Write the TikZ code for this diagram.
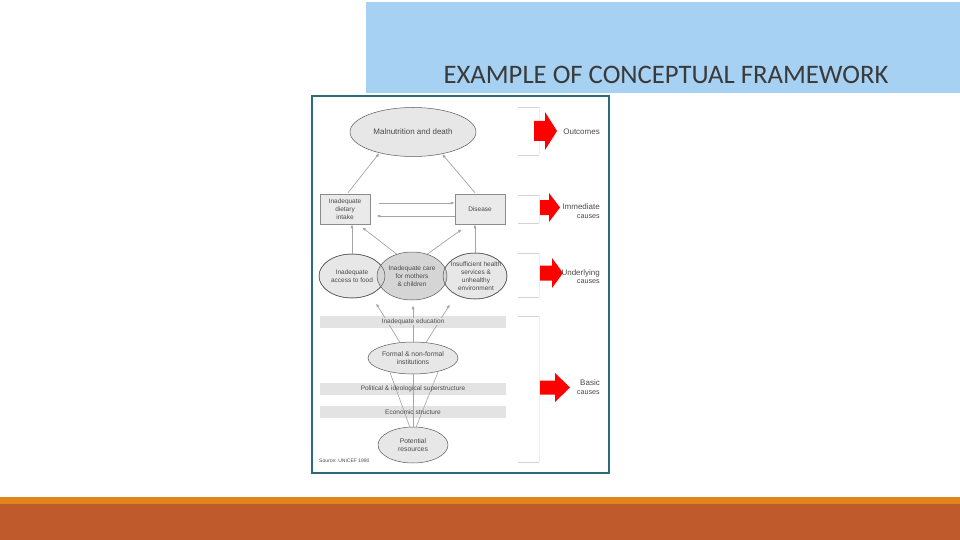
\documentclass[tikz,border=0pt]{standalone}
\usepackage{fontspec}
\setmainfont{Liberation Sans}
\newfontfamily\titlefont{Carlito}
\usetikzlibrary{arrows.meta,shapes.geometric,calc}
\definecolor{hdr}{HTML}{A6D1F3}
\definecolor{ttl}{HTML}{3A3A3A}
\definecolor{frm}{HTML}{2C6B7B}
\definecolor{orng}{HTML}{E3831B}
\definecolor{brwn}{HTML}{BE5A2C}
\definecolor{ellfill}{HTML}{E7E7E7}
\definecolor{ellmid}{HTML}{D5D5D5}
\definecolor{elldraw}{HTML}{5A5A5A}
\definecolor{boxfill}{HTML}{EAEAEA}
\definecolor{boxdraw}{HTML}{8C8C8C}
\definecolor{bandfill}{HTML}{E3E3E3}
\definecolor{conncol}{HTML}{A5A5A5}
\definecolor{brkcol}{HTML}{D3D3D3}
\definecolor{brkvert}{HTML}{EDEDED}
\definecolor{txt}{HTML}{4A4A4A}
\definecolor{arrred}{HTML}{FF0000}
\newcommand\redarr[6]{\fill[arrred] (#1,#4-#5) -- (#2,#4-#5) -- (#2,#4-#6) -- (#3,#4) -- (#2,#4+#6) -- (#2,#4+#5) -- (#1,#4+#5) -- cycle;}
\begin{document}
\begin{tikzpicture}[x=1pt,y=-1pt,
  ell/.style={ellipse, draw=elldraw, fill=ellfill, line width=0.5pt, inner sep=0pt},
  elltxt/.style={inner sep=0pt, align=center, text=txt, font=\fontsize{6.5}{7.8}\selectfont},
  boxn/.style={rectangle, draw=boxdraw, fill=boxfill, line width=0.5pt, inner sep=0pt, minimum width=50pt, minimum height=30pt, align=center, text=txt, font=\fontsize{6.5}{7.8}\selectfont},
  band/.style={rectangle, fill=bandfill, inner sep=0pt, minimum width=186pt, minimum height=12pt},
  bandtxt/.style={inner sep=0pt, text=txt, font=\fontsize{6.5}{7.8}\selectfont},
  conn/.style={draw=conncol, line width=0.7pt, -{Latex[length=4pt,width=3pt]}},
  plainconn/.style={draw=conncol, line width=0.6pt},
  brk/.style={draw=brkcol, line width=0.7pt},
  brkv/.style={draw=brkvert, line width=0.7pt},
  side/.style={text=txt, inner sep=0pt, font=\fontsize{8}{9}\selectfont},
  sidesmall/.style={text=txt, inner sep=0pt, font=\fontsize{7.2}{8}\selectfont}
]
\useasboundingbox (0,0) rectangle (960,540);
\fill[white] (0,0) rectangle (960,540);
% header
\fill[hdr] (366,2) rectangle (960,93);
\node[anchor=base, inner sep=0pt, text=ttl, font=\titlefont\fontsize{26.7}{30}\selectfont] (title) at (666,84) {EXAMPLE OF CONCEPTUAL FRAMEWORK};
% footer
\fill[orng] (0,497) rectangle (960,504);
\fill[brwn] (0,504) rectangle (960,540);
% frame
\draw[frm, line width=1.2pt, fill=white] (312,96) rectangle (609,473);

% bands (fills)
\node[band] (edu) at (413,321.5) {};
\node[band] (pol) at (413,389) {};
\node[band] (eco) at (413,412) {};

% nodes
\node[ell, minimum width=126pt, minimum height=49pt, label={[elltxt, font=\fontsize{8}{9}\selectfont]center:Malnutrition and death}] (mal) at (413,132) {};
\node[boxn] (diet) at (345,209) {Inadequate\\dietary\\intake};
\node[boxn] (dis) at (480,209) {Disease};
\node[ell, minimum width=66pt, minimum height=44pt] (L) at (352,276) {};
\node[ell, minimum width=64pt, minimum height=46pt] (R) at (475,276) {};
\node[ell, fill=ellmid, minimum width=70pt, minimum height=48pt] (M) at (412,276) {};
\draw[elldraw, line width=0.5pt] (L.center) ellipse [x radius=33, y radius=22];
\draw[elldraw, line width=0.5pt] (R.center) ellipse [x radius=32, y radius=23];
\node[elltxt] (Lt) at (L.center) {Inadequate\\access to food};
\node[elltxt] (Mt) at (M.center) {Inadequate care\\for mothers\\\& children};
\node[elltxt] (Rt) at ($(R.center)+(1,0)$) {Insufficient health\\services \&\\unhealthy\\environment};
\node[ell, minimum width=90pt, minimum height=32pt, label={[elltxt, font=\fontsize{6.8}{8}\selectfont]center:{Formal \& non-formal\\institutions}}] (F) at (413,358) {};
\node[ell, minimum width=70pt, minimum height=36pt, label={[elltxt, font=\fontsize{6.8}{8.5}\selectfont]center:{Potential\\resources}}] (P) at (413,445) {};
\node[anchor=base west, inner sep=0pt, text=txt, font=\fontsize{5}{6}\selectfont] (src) at (319,462) {Source: UNICEF 1990};

% connectors
\draw[conn] ($(diet.north)+(3,-1)$) -- (mal.212);
\draw[conn] ($(dis.north)+(-5,-1)$) -- (mal.323);
\draw[conn] ($(diet.east)+(9,-6)$) -- ($(dis.west)+(0,-6)$);
\draw[conn] ($(dis.west)+(0,7)$) -- ($(diet.east)+(6,7)$);
\draw[conn] (L.north) -- (L.north |- diet.south);
\draw[conn] (R.north) -- (R.north |- dis.south);
\draw[conn] (M.125) -- ($(diet.south)+(17,3)$);
\draw[conn] (M.55) -- ($(dis.south)+(-18,5)$);
\draw[conn] (F.130) -- ($(L.south)+(24,5)$);
\draw[conn] (F.north) -- ($(M.south)+(1,5)$);
\draw[conn] (F.50) -- ($(R.south)+(-25,5)$);
\draw[plainconn] (P.100) -- (F.211);
\draw[plainconn] (P.north) -- (F.south);
\draw[plainconn] (P.80) -- (F.332);

% band texts above the connectors
\node[bandtxt, fill=bandfill, inner xsep=1pt] (edut) at (edu.center) {Inadequate education};
\node[bandtxt] (polt) at (pol.center) {Political \& ideological superstructure};
\node[bandtxt] (ecot) at (eco.center) {Economic structure};

% right brackets
\draw[brk] (518,107) -- (539,107);
\draw[brk] (518,155) -- (539,155);
\draw[brkv] (539,107) -- (539,155);
\draw[brk] (518,195) -- (539,195);
\draw[brk] (518,223) -- (539,223);
\draw[brkv] (539,195) -- (539,223);
\draw[brk] (518,253) -- (539,253);
\draw[brk] (518,297) -- (539,297);
\draw[brkv] (539,253) -- (539,297);
\draw[brk] (518,316) -- (539,316);
\draw[brk] (518,462) -- (539,462);
\draw[brkv] (539,316) -- (539,462);

% red arrows
\redarr{534}{545}{557}{131}{10}{19}
\redarr{540}{549}{560}{207.5}{7.5}{14.5}
\redarr{540}{552}{563}{273}{7.5}{15}
\redarr{540}{555}{570}{387.5}{7}{14.5}

% side labels
\node[side, anchor=base east] (out) at (600,135) {Outcomes};
\node[side, anchor=base east] (imm) at (600,209.5) {Immediate};
\node[sidesmall, anchor=base east] (imc) at (600,218) {causes};
\node[side, anchor=base east] (und) at (600,275.5) {Underlying};
\node[sidesmall, anchor=base east] (unc) at (600,283.5) {causes};
\node[side, anchor=base east] (bas) at (600,385) {Basic};
\node[sidesmall, anchor=base east] (bac) at (600,394.5) {causes};
\end{tikzpicture}
\end{document}
